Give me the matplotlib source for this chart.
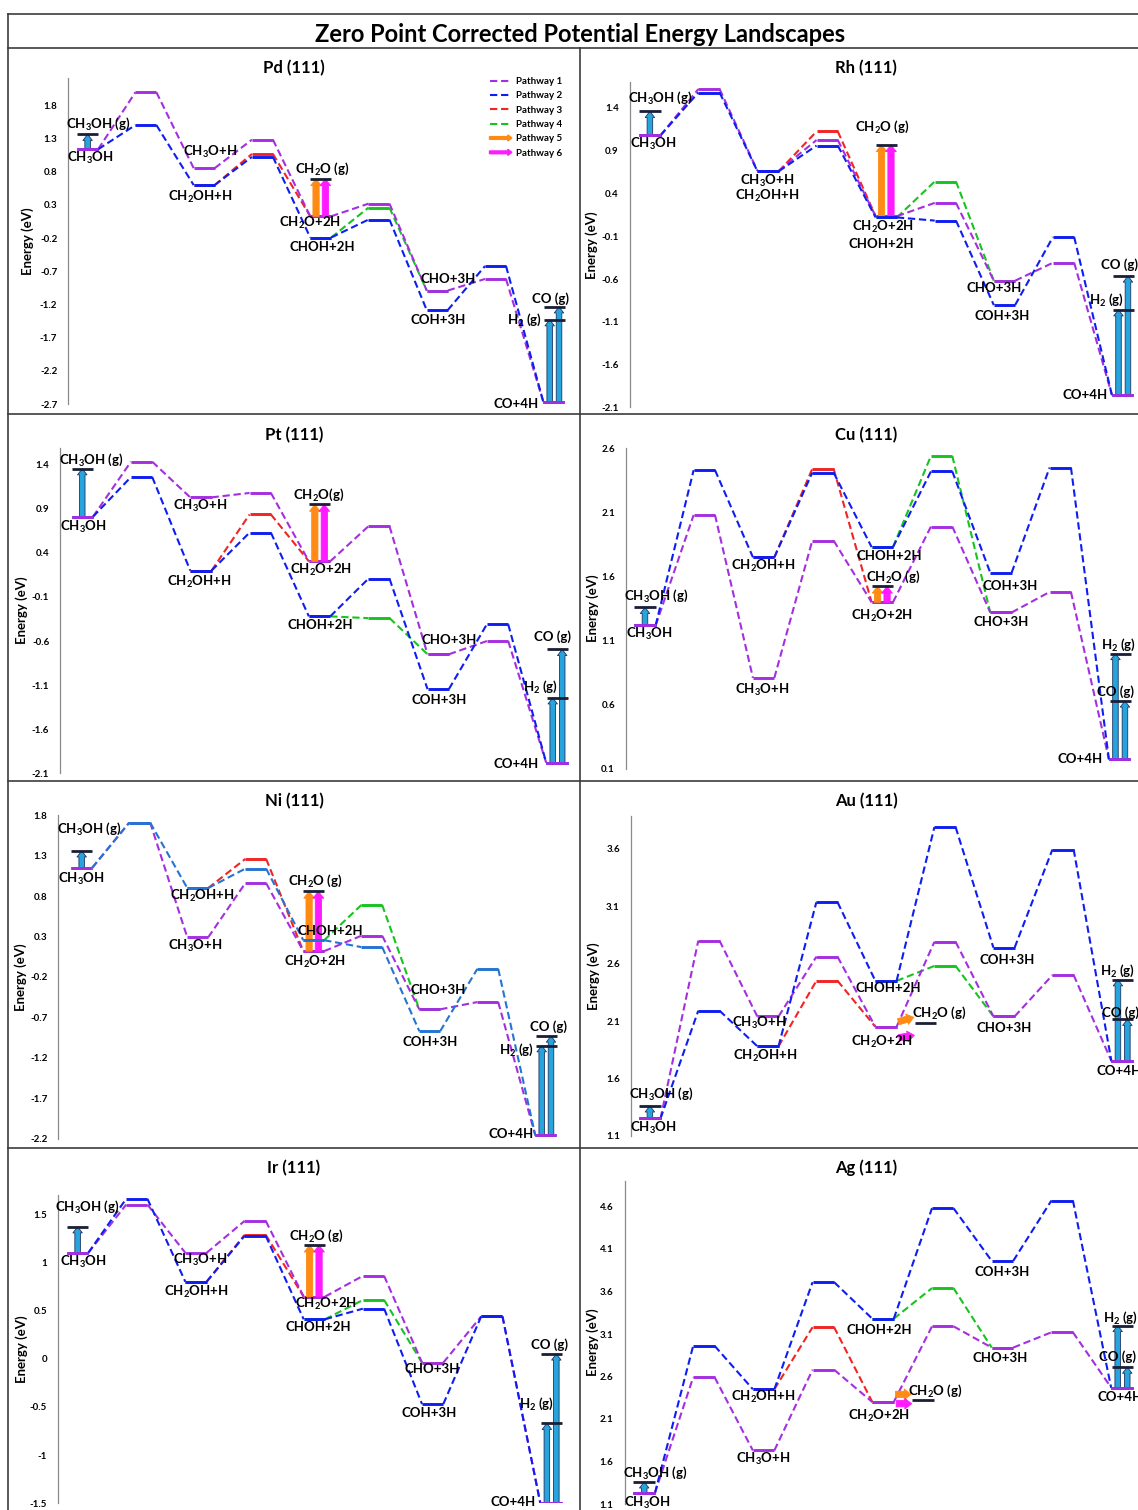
"""
Zero point corrected potential energy landscapes, methanol decomposition
on eight (111) metal surfaces.
"""

import matplotlib.pyplot as plt
import matplotlib.patches as mpatches
from matplotlib.lines import Line2D
from matplotlib.legend_handler import HandlerPatch
import numpy as np

plt.rcParams['font.family'] = 'Lato'
plt.rcParams['font.weight'] = 'bold'
plt.rcParams['mathtext.fontset'] = 'custom'
plt.rcParams['mathtext.rm'] = 'Lato:bold'
plt.rcParams['mathtext.bf'] = 'Lato:bold'
plt.rcParams['mathtext.it'] = 'Lato:bold'
plt.rcParams['mathtext.default'] = 'rm'

# Energies (eV) at the 9 steps:
# CH3OH, TS1, I1, TS2, I2, TS3, I3, TS4, CO+4H
# p1 = pathway 1 (CH3O route), p2 = pathway 2 (CH2OH route)
# p3 = pathway 3 (CH2OH+H -> TS -> CH2O+2H), p4 = pathway 4 (CHOH+2H -> TS -> CHO+3H)
# gas = CH3OH(g), CH2O(g), H2(g), CO(g)
pd_p1 = [1.14, 2.00, 0.855, 1.285, 0.13, 0.32, -0.99, -0.815, -2.665]
pd_p2 = [1.14, 1.505, 0.60, 1.025, -0.19, 0.08, -1.285, -0.62, -2.665]
pd_p3 = [0.60, 1.07, 0.13]
pd_p4 = [-0.19, 0.26, -0.99]
pd_gas = [1.365, 0.695, -1.43, -1.235]

rh_p1 = [1.08, 1.62, 0.665, 1.025, 0.134, 0.29, -0.62, -0.41, -1.96]
rh_p2 = [1.08, 1.58, 0.66, 0.96, 0.12, 0.083, -0.905, -0.11, -1.96]
rh_p3 = [0.66, 1.125, 0.134]
rh_p4 = [0.12, 0.54, -0.62]
rh_gas = [1.36, 0.97, -0.96, -0.565]

pt_p1 = [0.81, 1.434, 1.03, 1.08, 0.305, 0.70, -0.75, -0.60, -1.98]
pt_p2 = [0.81, 1.26, 0.20, 0.63, -0.32, 0.105, -1.145, -0.41, -1.98]
pt_p3 = [0.20, 0.836, 0.305]
pt_p4 = [-0.32, -0.34, -0.75]
pt_gas = [1.355, 0.95, -1.244, -0.695]

cu_p1 = [1.22, 2.08, 0.81, 1.88, 1.40, 1.99, 1.32, 1.48, 0.175]
cu_p2 = [1.22, 2.43, 1.75, 2.41, 1.83, 2.42, 1.63, 2.45, 0.175]
cu_p3 = [1.75, 2.44, 1.40]
cu_p4 = [1.83, 2.54, 1.32]
cu_gas = [1.36, 1.525, 1.00, 0.63]

ni_p1 = [1.15, 1.71, 0.29, 0.96, 0.12, 0.31, -0.60, -0.51, -2.16]
ni_p2 = [1.15, 1.71, 0.90, 1.14, 0.255, 0.17, -0.87, -0.10, -2.16]
ni_p3 = [0.90, 1.26, 0.12]
ni_p4 = [0.255, 0.69, -0.60]
ni_gas = [1.36, 0.86, -1.05, -0.93]

au_p1 = [1.25, 2.80, 2.14, 2.66, 2.05, 2.79, 2.14, 2.50, 1.75]
au_p2 = [1.25, 2.19, 1.88, 3.135, 2.45, 3.79, 2.74, 3.595, 1.75]
au_p3 = [1.88, 2.45, 2.05]
au_p4 = [2.45, 2.58, 2.14]
au_gas = [1.36, 2.08, 2.46, 2.115]

ir_p1 = [1.10, 1.60, 1.10, 1.43, 0.645, 0.86, -0.04, 0.44, -1.50]
ir_p2 = [1.10, 1.66, 0.80, 1.275, 0.41, 0.52, -0.47, 0.44, -1.50]
ir_p3 = [0.80, 1.285, 0.645]
ir_p4 = [0.41, 0.61, -0.04]
ir_gas = [1.37, 1.18, -0.67, 0.05]

ag_p1 = [1.23, 2.59, 1.73, 2.68, 2.30, 3.19, 2.94, 3.12, 2.47]
ag_p2 = [1.23, 2.96, 2.45, 3.71, 3.28, 4.58, 3.96, 4.67, 2.47]
ag_p3 = [2.45, 3.18, 2.30]
ag_p4 = [3.28, 3.64, 2.94]
ag_gas = [1.36, 2.32, 3.20, 2.71]

surfaces = ['Pd (111)', 'Rh (111)', 'Pt (111)', 'Cu (111)',
            'Ni (111)', 'Au (111)', 'Ir (111)', 'Ag (111)']
pathway_names = ['Pathway 1', 'Pathway 2', 'Pathway 3',
                 'Pathway 4', 'Pathway 5', 'Pathway 6']
species_keys = ['CH3OHg', 'CH3OH', 'CH3O', 'CH2OH', 'CH2Og', 'CH2O',
                'CHOH', 'CHO', 'COH', 'COg', 'H2g', 'CO4H']
species_text = {'CH3OHg': 'CH$_3$OH (g)', 'CH3OH': 'CH$_3$OH',
                'CH3O': 'CH$_3$O+H', 'CH2OH': 'CH$_2$OH+H',
                'CH2Og': 'CH$_2$O (g)', 'CH2O': 'CH$_2$O+2H',
                'CHOH': 'CHOH+2H', 'CHO': 'CHO+3H', 'COH': 'COH+3H',
                'COg': 'CO (g)', 'H2g': 'H$_2$ (g)', 'CO4H': 'CO+4H'}

# Colours
purple = '#A52FE0'
blue = '#0F1EF0'
ni_blue = '#2474D2'
red = '#F22424'
green = '#17C41F'
orange = '#FF8A14'
magenta = '#FF1AFF'
cyan = '#27A4DC'
cyan_edge = '#1D3563'
gas_color = '#1A1E36'

W, H = 1138, 1510
fig = plt.figure(figsize=(W / 100, H / 100), dpi=100)


def fx(x):
    return x / W


def fy(y):
    return 1 - y / H


# Frame of the figure
for y in [14, 48, 414, 781, 1148]:
    fig.add_artist(Line2D([fx(8), fx(1138)], [fy(y), fy(y)], color='#3c3c3c', lw=1.2))
fig.add_artist(Line2D([fx(8), fx(8)], [fy(14), fy(1510)], color='#3c3c3c', lw=1.2))
fig.add_artist(Line2D([fx(580), fx(580)], [fy(48), fy(1510)], color='#3c3c3c', lw=1.2))

fig.text(fx(580), fy(35), 'Zero Point Corrected Potential Energy Landscapes',
         ha='center', va='center', fontsize=17, fontweight='bold')

# Panel layout: axes box in pixels (left, top, right, bottom), xlim, ylim, ticks,
# title row y and y-label x
layout = {
    'Pd (111)': dict(box=(68.4, 78.3, 580, 404), xlim=(-0.33, 8.45), ylim=(-2.7, 2.21), t0=-2.7, tmax=1.8, ty=68, lx=28),
    'Rh (111)': dict(box=(629.8, 82.3, 1138, 407.3), xlim=(-0.34, 8.26), ylim=(-2.1, 1.70), t0=-2.1, tmax=1.4, ty=68, lx=592),
    'Pt (111)': dict(box=(60.3, 448, 580, 773.3), xlim=(-0.37, 8.39), ylim=(-2.1, 1.59), t0=-2.1, tmax=1.4, ty=435, lx=22),
    'Cu (111)': dict(box=(626, 448.3, 1138, 769), xlim=(-0.32, 8.31), ylim=(0.1, 2.6), t0=0.1, tmax=2.6, ty=435, lx=593),
    'Ni (111)': dict(box=(58.5, 815.3, 580, 1138.7), xlim=(-0.40, 8.59), ylim=(-2.2, 1.8), t0=-2.2, tmax=1.8, ty=801, lx=21),
    'Au (111)': dict(box=(631, 815.7, 1138, 1135.7), xlim=(-0.32, 8.27), ylim=(1.1, 3.89), t0=1.1, tmax=3.6, ty=801, lx=594),
    'Ir (111)': dict(box=(58.1, 1195, 580, 1503.3), xlim=(-0.33, 8.49), ylim=(-1.5, 1.70), t0=-1.5, tmax=1.5, ty=1168, lx=22),
    'Ag (111)': dict(box=(624.5, 1181, 1138, 1504), xlim=(-0.33, 8.27), ylim=(1.1, 4.9), t0=1.1, tmax=4.6, ty=1168, lx=593),
}

# Label offsets per panel, (dx in step units, dy in pixels), in species_keys order
label_offsets = {
    'Pd (111)': [(0.18, 10), (0.05, -9), (0.11, 16), (-0.06, -12), (0.03, 10), (-0.19, -7),
                 (0.03, -9), (0.18, 12), (0.02, -10), (-0.06, 8), (-0.51, 0), (-0.65, -2)],
    'Rh (111)': [(0.17, 14), (0.05, -9), (-0.02, -10), (-0.02, -25), (-0.07, 18), (-0.05, -11),
                 (-0.08, -27), (-0.17, -7), (-0.03, -11), (-0.06, 11), (-0.27, 10), (-0.64, 0)],
    'Pt (111)': [(0.16, 9), (0.02, -10), (-0.02, -9), (-0.02, -11), (-0.01, 10), (0.02, -9),
                 (0.01, -9), (0.19, 14), (0.02, -11), (-0.08, 13), (-0.27, 11), (-0.69, -1)],
    'Cu (111)': [(0.20, 11), (0.07, -9), (-0.03, -12), (-0.01, -9), (0.19, 9), (0.0, -14),
                 (0.11, -9), (0.0, -10), (0.15, -13), (-0.07, 9), (-0.02, 9), (-0.67, 0)],
    'Ni (111)': [(0.14, 22), (0.0, -11), (-0.04, -9), (0.08, -8), (0.03, 10), (0.03, -11),
                 (0.28, 9), (0.15, 19), (0.0, -11), (0.05, 9), (-0.50, -4), (-0.59, 1)],
    'Au (111)': [(0.19, 12), (0.05, -9), (-0.14, -7), (-0.04, -10), (0.24, 10), (-0.06, -15),
                 (0.04, -7), (0.0, -12), (0.05, -12), (-0.02, 7), (-0.07, 9), (-0.05, -10)],
    'Ir (111)': [(0.17, 20), (0.09, -9), (0.07, -7), (0.0, -10), (0.03, 9), (0.20, -7),
                 (0.07, -8), (0.0, -6), (-0.06, -9), (-0.03, 9), (-0.25, 19), (-0.64, 1)],
    'Ag (111)': [(0.18, 9), (0.06, -10), (0.0, -9), (0.0, -8), (0.21, 9), (-0.06, -14),
                 (-0.07, -11), (-0.04, -10), (-0.01, -11), (-0.08, 10), (-0.02, 8), (-0.03, -9)],
}

# Horizontal CH2O desorption arrows (Au, Ag): eV offsets of orange/magenta from CH2O+2H level
side_arrows = {'Au (111)': ((0.044, 0.082), (-0.095, -0.075)),
               'Ag (111)': ((0.09, 0.09), (-0.02, -0.02))}

panel_data = [
    ('Pd (111)', pd_p1, pd_p2, pd_p3, pd_p4, pd_gas),
    ('Rh (111)', rh_p1, rh_p2, rh_p3, rh_p4, rh_gas),
    ('Pt (111)', pt_p1, pt_p2, pt_p3, pt_p4, pt_gas),
    ('Cu (111)', cu_p1, cu_p2, cu_p3, cu_p4, cu_gas),
    ('Ni (111)', ni_p1, ni_p2, ni_p3, ni_p4, ni_gas),
    ('Au (111)', au_p1, au_p2, au_p3, au_p4, au_gas),
    ('Ir (111)', ir_p1, ir_p2, ir_p3, ir_p4, ir_gas),
    ('Ag (111)', ag_p1, ag_p2, ag_p3, ag_p4, ag_gas),
]

hw = 0.18  # half width of an energy level
dash = (0, (3.5, 1.8))


def draw_levels(ax, xs, ys, color, z):
    for x, y in zip(xs, ys):
        ax.plot([x - hw, x + hw], [y, y], color=color, lw=2.1,
                solid_capstyle='butt', zorder=z + 1)


def draw_path(ax, xs, ys, color, z):
    for i in range(len(xs) - 1):
        ax.plot([xs[i] + hw, xs[i + 1] - hw], [ys[i], ys[i + 1]], color=color,
                lw=1.5, ls=dash, zorder=z)
    draw_levels(ax, xs, ys, color, z)


def arrow(ax, x0, y0, x1, y1, fc, ec, scale=8):
    ax.add_patch(mpatches.FancyArrowPatch(
        (x0, y0), (x1, y1),
        arrowstyle='simple,head_length=0.55,head_width=0.85,tail_width=0.5',
        mutation_scale=scale, fc=fc, ec=ec, lw=0.6,
        shrinkA=0, shrinkB=0, zorder=6))


def gas_line(ax, x, y):
    ax.plot([x - hw, x + hw], [y, y], color=gas_color, lw=2.0,
            solid_capstyle='butt', zorder=7)


steps = np.arange(9)

for name, p1, p2, p3, p4, gas in panel_data:
    lay = layout[name]
    l, t, r, b = lay['box']
    ax = fig.add_axes([fx(l), fy(b), (r - l) / W, (b - t) / H])
    ax.patch.set_alpha(0)
    col_blue = ni_blue if name == 'Ni (111)' else blue

    # Pathways
    draw_path(ax, steps[2:5], p3, red, 2)
    draw_path(ax, steps[4:7], p4, green, 2)
    draw_path(ax, steps, p1, purple, 4)
    draw_path(ax, steps, p2, col_blue, 6)
    draw_levels(ax, [steps[0], steps[8]], [p1[0], p1[8]], purple, 7)

    # Desorption of CH3OH
    gas_line(ax, 0, gas[0])
    arrow(ax, 0, p1[0], 0, gas[0], cyan, cyan_edge)

    # Desorption of CH2O (pathways 5 and 6)
    if name in side_arrows:
        gx = 4.67
        (o0, o1), (m0, m1) = side_arrows[name]
        gas_line(ax, gx, gas[1])
        arrow(ax, 4.21, p1[4] + o0, 4.47, p1[4] + o1, orange, orange, scale=9)
        arrow(ax, 4.22, p1[4] + m0, 4.48, p1[4] + m1, magenta, magenta, scale=9)
    else:
        gx = 4
        gas_line(ax, gx, gas[1])
        arrow(ax, 3.92, p1[4], 3.92, gas[1], orange, orange, scale=9)
        arrow(ax, 4.08, p1[4], 4.08, gas[1], magenta, magenta, scale=9)

    # Desorption of H2 and CO
    gas_line(ax, 8.01, gas[2])
    gas_line(ax, 8.01, gas[3])
    arrow(ax, 7.93, p1[8], 7.93, gas[2], cyan, cyan_edge)
    arrow(ax, 8.09, p1[8], 8.09, gas[3], cyan, cyan_edge)

    # Species labels
    anchors = {'CH3OHg': (0, gas[0]), 'CH3OH': (0, p1[0]), 'CH3O': (2, p1[2]),
               'CH2OH': (2, p2[2]), 'CH2Og': (gx, gas[1]), 'CH2O': (4, p1[4]),
               'CHOH': (4, p2[4]), 'CHO': (6, p1[6]), 'COH': (6, p2[6]),
               'COg': (8, gas[3]), 'H2g': (8, gas[2]), 'CO4H': (8, p1[8])}
    for key, (dx, dy) in zip(species_keys, label_offsets[name]):
        x, y = anchors[key]
        txt = species_text[key]
        if name == 'Pt (111)' and key == 'CH2Og':
            txt = 'CH$_2$O(g)'
        ax.annotate(txt, (x + dx, y), xytext=(0, dy * 0.72), textcoords='offset points',
                    ha='center', va='center', fontsize=9.5, fontweight='bold',
                    zorder=10, annotation_clip=False)

    # Axes styling
    ax.set_xlim(*lay['xlim'])
    ax.set_ylim(*lay['ylim'])
    ticks = np.round(np.arange(lay['t0'], lay['tmax'] + 0.01, 0.5), 2)
    ax.set_yticks(ticks)
    ax.set_yticklabels([f'{v:g}' for v in ticks], fontsize=7, fontweight='bold')
    ax.tick_params(axis='y', length=0, pad=8)
    ax.set_xticks([])
    for side in ['top', 'right', 'bottom']:
        ax.spines[side].set_visible(False)
    ax.spines['left'].set_color('#8a8a8a')
    ax.spines['left'].set_linewidth(0.9)

    # Panel title and y label
    title_x = 294 if l < 500 else 866
    fig.text(fx(title_x), fy(lay['ty']), name, ha='center', va='center',
             fontsize=12, fontweight='bold')
    fig.text(fx(lay['lx']), fy((t + b) / 2), 'Energy (eV)',
             rotation=90, ha='center', va='center', fontsize=9.5, fontweight='bold')

    if name == 'Pd (111)':
        handles = [Line2D([], [], color=purple, lw=1.5, ls=dash),
                   Line2D([], [], color=blue, lw=1.5, ls=dash),
                   Line2D([], [], color=red, lw=1.5, ls=dash),
                   Line2D([], [], color=green, lw=1.5, ls=dash),
                   mpatches.FancyArrow(0, 0, 1, 0, color=orange),
                   mpatches.FancyArrow(0, 0, 1, 0, color=magenta)]

        def make_legend_arrow(legend, orig_handle, xdescent, ydescent, width, height, fontsize):
            return mpatches.FancyArrow(0, 0.5 * height, width, 0, length_includes_head=True,
                                       width=height * 0.4, head_width=height * 0.9,
                                       head_length=height * 0.6)

        ax.legend(handles, pathway_names, loc='upper right', frameon=False,
                  bbox_to_anchor=(fx(562), fy(77)), bbox_transform=fig.transFigure,
                  prop={'size': 7, 'weight': 'bold'}, handlelength=2.3,
                  handletextpad=0.4, labelspacing=0.55, borderpad=0, borderaxespad=0,
                  handler_map={mpatches.FancyArrow: HandlerPatch(patch_func=make_legend_arrow)})

fig.savefig('out.png', dpi=100)
